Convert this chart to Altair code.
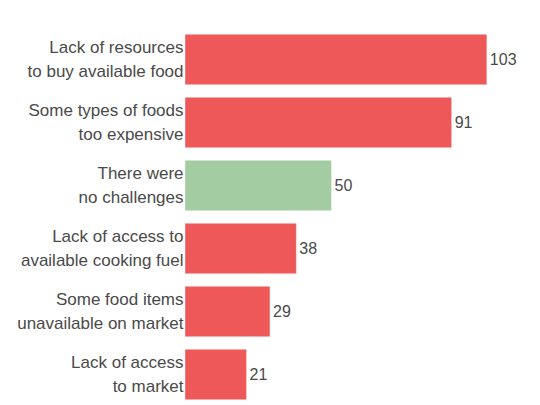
import altair as alt
import pandas as pd

categories = [
    "Lack of resources|to buy available food",
    "Some types of foods|too expensive",
    "There were|no challenges",
    "Lack of access to|available cooking fuel",
    "Some food items|unavailable on market",
    "Lack of access|to market",
]
values = [103, 91, 50, 38, 29, 21]
groups = ["challenge", "challenge", "none", "challenge", "challenge", "challenge"]

df = pd.DataFrame({"cat": categories, "val": values, "grp": groups})

y = alt.Y(
    "cat:N",
    sort=categories,
    title=None,
    scale=alt.Scale(paddingInner=0.2, paddingOuter=0.1),
    axis=alt.Axis(
        labelExpr="split(datum.label, '|')",
        labelFontSize=17,
        labelFont="Liberation Sans",
        labelColor="#4a4a4a",
        labelLineHeight=24,
        labelOffset=-12,
        labelPadding=2,
        labelLimit=200,
        ticks=False,
        domain=False,
        grid=False,
    ),
)
x = alt.X("val:Q", title=None, scale=alt.Scale(domain=[0, 115]), axis=None)

bars = alt.Chart(df).mark_bar(stroke="white", strokeOpacity=0.4, strokeWidth=1).encode(
    x=x,
    y=y,
    color=alt.Color(
        "grp:N",
        scale=alt.Scale(domain=["challenge", "none"], range=["#ee5859", "#a3cca3"]),
        legend=None,
    ),
)
text = alt.Chart(df).mark_text(
    align="left", dx=3, fontSize=16, font="Liberation Sans", color="#4a4a4a"
).encode(x=x, y=y, text="val:Q")

chart = (bars + text).properties(
    width=337,
    height=378,
    padding={"left": 177, "top": 20, "right": 0, "bottom": 0},
    autosize=alt.AutoSizeParams(type="none"),
).configure_view(stroke=None)

chart.save("out.html", embed_options={"renderer": "svg", "actions": False})
